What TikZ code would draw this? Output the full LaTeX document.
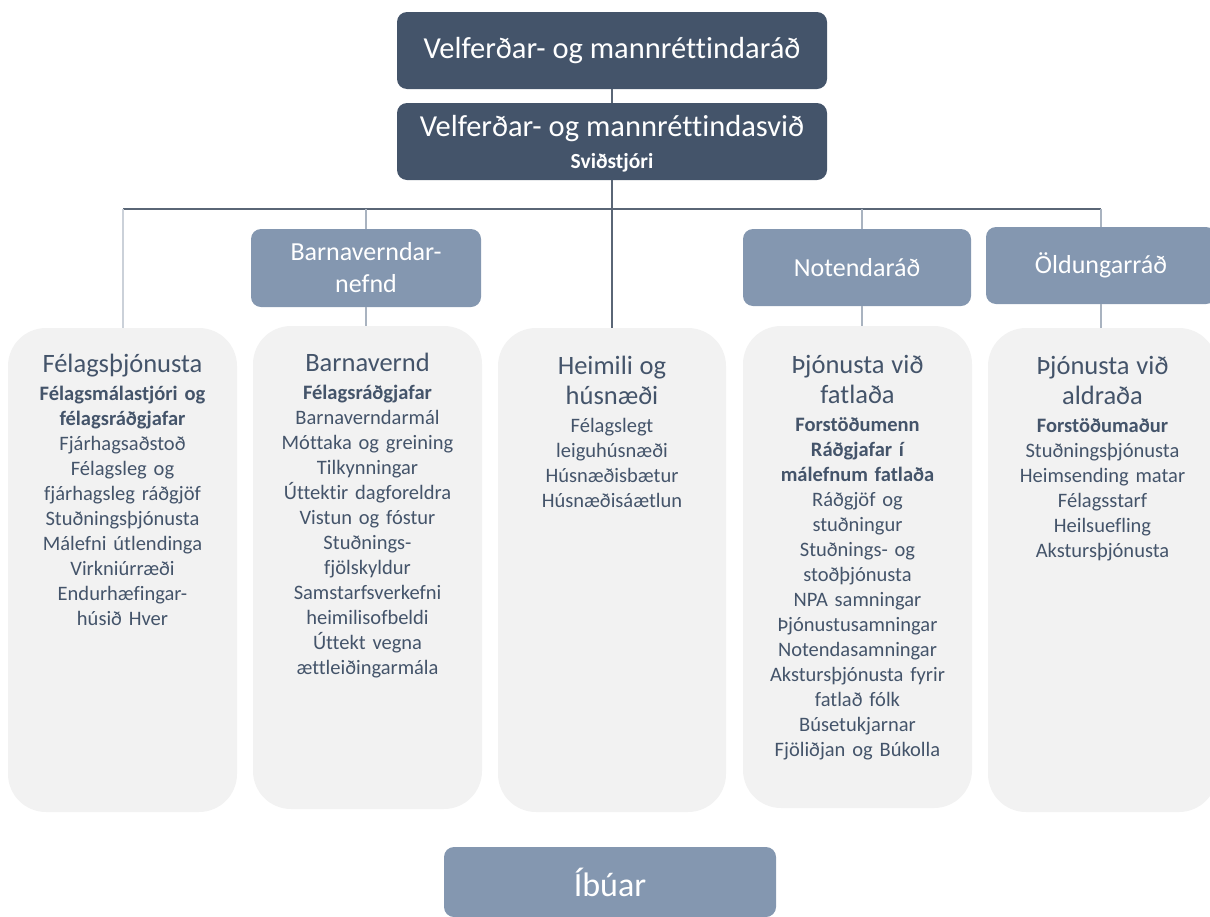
\documentclass[tikz,border=0pt]{standalone}
\usepackage{fontspec}
\setmainfont{Carlito}[Ligatures={NoCommon}]
\definecolor{darkslate}{HTML}{44546A}
\definecolor{midslate}{HTML}{8497B0}
\definecolor{boxgray}{HTML}{F2F2F2}
\definecolor{linedark}{HTML}{5A6676}
\definecolor{linelight}{HTML}{A9B3C0}
\newcommand\unithead[1]{{\fontsize{26.5}{30}\selectfont #1\par}\vspace{3pt}}

\begin{document}
\begin{tikzpicture}[x=1pt,y=-1pt]
  \tikzset{
    topbox/.style={fill=darkslate,rounded corners=10pt,text=white,minimum width=430pt,
      minimum height=77pt,inner sep=0pt,align=center},
    subbox/.style={fill=midslate,rounded corners=10pt,text=white,minimum width=229pt,
      minimum height=77pt,inner sep=0pt,align=center,font=\fontsize{26}{32}\selectfont},
    unitbox/.style={fill=boxgray,rounded corners=38pt,minimum width=229pt,
      minimum height=484pt,inner sep=0pt},
    unittext/.style={anchor=north,inner sep=0pt,text width=225pt,align=center,
      text=darkslate,font=\fontsize{20.5}{25}\selectfont},
    trunk/.style={draw=linedark,line width=1.3pt},
    branch/.style={draw=linelight,line width=1.3pt}
  }
  \useasboundingbox (0,0) rectangle (1210,916);

  \node[topbox,font=\fontsize{30.5}{36}\selectfont] (rad) at (612,50.5) {Velferðar- og mannréttindaráð};
  \node[topbox] (svid) at (612,141.5) {};
  \node[text=white,align=center,inner sep=0pt,font=\fontsize{22.5}{32}\selectfont] (svidt)
    at ([yshift=-2.5pt]svid.center)
    {{\fontsize{30.5}{36}\selectfont Velferðar- og mannréttindasvið}\\{\bfseries\fontsize{21.5}{26}\selectfont Sviðstjóri}};

  \node[subbox,minimum width=230pt,minimum height=78pt] (bvn) at (366,268) {Barnaverndar-\\nefnd};
  \node[subbox,minimum width=228pt] (not) at (857,267.5) {Notendaráð};
  \node[subbox,minimum width=230pt] (old) at (1101,265.5) {Öldungarráð};

  \node[unitbox] (fel) at (122.5,570) {};
  \node[unitbox,minimum height=483pt] (barn) at (367.5,567.5) {};
  \node[unitbox,minimum width=228pt] (heim) at (612,570) {};
  \node[unitbox,minimum height=482pt] (fatl) at (857.5,567) {};
  \node[unitbox] (aldr) at (1102.5,570) {};

  \node[unittext] (felt) at (122.5,354) {\unithead{Félagsþjónusta}
    {\bfseries Félagsmálastjóri og\\félagsráðgjafar}\\
    Fjárhagsaðstoð\\Félagsleg og\\fjárhagsleg ráðgjöf\\Stuðningsþjónusta\\
    Málefni útlendinga\\Virkniúrræði\\Endurhæfingar-\\húsið Hver};
  \node[unittext] (barnt) at (367.5,353) {\unithead{Barnavernd}
    {\bfseries Félagsráðgjafar}\\
    Barnaverndarmál\\Móttaka og greining\\Tilkynningar\\Úttektir dagforeldra\\
    Vistun og fóstur\\Stuðnings-\\fjölskyldur\\Samstarfsverkefni\\heimilisofbeldi\\
    Úttekt vegna\\ættleiðingarmála};
  \node[unittext] (heimt) at (612,356) {\unithead{Heimili og\\húsnæði}
    Félagslegt\\leiguhúsnæði\\Húsnæðisbætur\\Húsnæðisáætlun};
  \node[unittext] (fatlt) at (857.5,355) {\unithead{Þjónusta við\\fatlaða}
    {\bfseries Forstöðumenn\\Ráðgjafar í\\málefnum fatlaða}\\
    Ráðgjöf og\\stuðningur\\Stuðnings- og\\stoðþjónusta\\NPA samningar\\
    Þjónustusamningar\\Notendasamningar\\Akstursþjónusta fyrir\\fatlað fólk\\
    Búsetukjarnar\\Fjöliðjan og Búkolla};
  \node[unittext] (aldrt) at (1102.5,356) {\unithead{Þjónusta við\\aldraða}
    {\bfseries Forstöðumaður}\\
    Stuðningsþjónusta\\Heimsending matar\\Félagsstarf\\Heilsuefling\\Akstursþjónusta};

  \node[subbox,minimum width=332pt,minimum height=70pt,font=\fontsize{34}{40}\selectfont] (ibu) at (610,882) {Íbúar};

  % connectors
  \coordinate (hl) at (123,209);
  \coordinate (hn) at (862,209);
  \coordinate (hr) at (1101,209);
  \draw[trunk] (rad.south) -- (svid.north);
  \draw[trunk] (hl) -- (hr);
  \draw[trunk] (svid.south) -- (heim.north);
  \draw[branch,draw=linelight!60] (hl) -- (hl |- fel.north);
  \draw[branch] (bvn.north |- hl) -- (bvn.north);
  \draw[branch] (bvn.south) -- (bvn.south |- barn.north);
  \draw[branch] (hn) -- (hn |- not.north);
  \draw[branch] (hn |- not.south) -- (hn |- fatl.north);
  \draw[branch] (hr) -- (hr |- old.north);
  \draw[branch] (hr |- old.south) -- (hr |- aldr.north);
\end{tikzpicture}
\end{document}
